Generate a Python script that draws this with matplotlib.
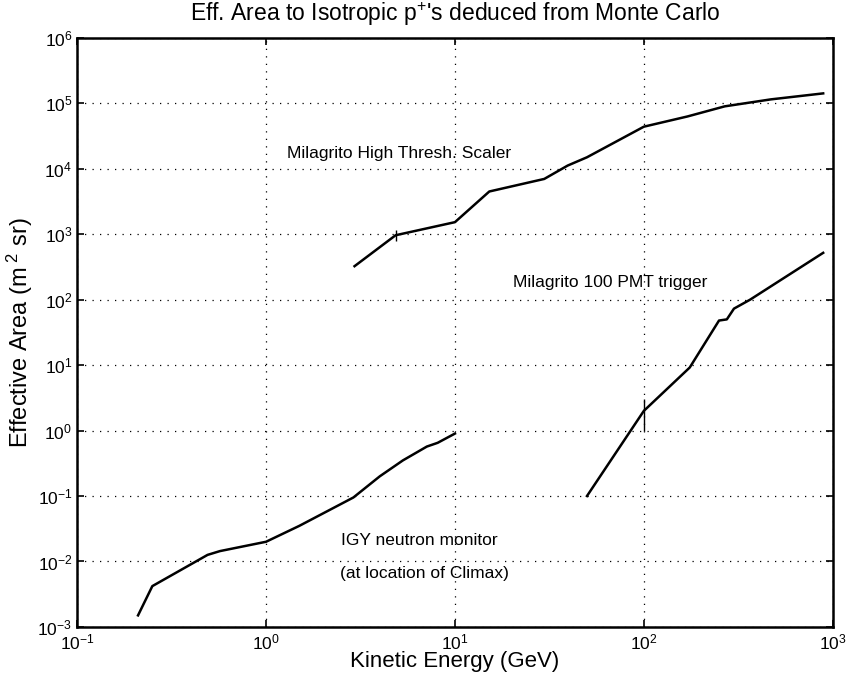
import matplotlib
matplotlib.use('Agg')
import matplotlib.pyplot as plt

plt.rcParams['font.family'] = ['Liberation Sans', 'DejaVu Sans']
plt.rcParams['mathtext.fontset'] = 'custom'
plt.rcParams['mathtext.rm'] = 'Liberation Sans'
plt.rcParams['mathtext.it'] = 'Liberation Sans'

# Milagrito high threshold scaler
scaler_e = [2.94, 4.85, 10, 15.2, 29.7, 39.5, 50, 100, 170, 268, 470, 890]
scaler_a = [325, 965, 1530, 4500, 7000, 11200, 15000, 44000, 63000, 90000, 115000, 142000]

# Milagrito 100 PMT trigger
pmt_e = [50, 100, 175, 250, 275, 300, 365, 890]
pmt_a = [0.1, 2.0, 9.2, 48, 50, 73, 100, 520]

# IGY neutron monitor (Climax)
igy_e = [0.21, 0.25, 0.49, 0.57, 1.0, 1.5, 2.9, 4.0, 5.3, 7.1, 8.1, 10]
igy_a = [0.0015, 0.0042, 0.0126, 0.0144, 0.020, 0.035, 0.095, 0.2, 0.35, 0.57, 0.65, 0.9]

# little error ticks
err_e = [4.9, 100]
err_lo = [800, 1.0]
err_hi = [1150, 3.0]

fig = plt.figure(figsize=(8.48, 6.77), dpi=100)
ax = fig.add_axes([0.091, 0.074, 0.891, 0.87])

ax.loglog(scaler_e, scaler_a, color='black', lw=1.8)
ax.loglog(pmt_e, pmt_a, color='black', lw=1.8)
ax.loglog(igy_e, igy_a, color='black', lw=1.8)
ax.vlines(err_e, err_lo, err_hi, color='black', lw=1.0)

ax.set_xlim(0.1, 1000)
ax.set_ylim(1e-3, 1e6)
ax.grid(True, which='major', color='black', linestyle=(0, (1, 5)), lw=0.9)
ax.minorticks_off()
ax.tick_params(direction='in', top=True, right=True, length=5, width=1.2, labelsize=12.5)
ax.tick_params(axis='x', pad=4)
for s in ax.spines.values():
    s.set_linewidth(1.8)

ax.text(1.29, 17000, 'Milagrito High Thresh. Scaler', fontsize=12.5, va='center')
ax.text(20.3, 182, 'Milagrito 100 PMT trigger', fontsize=12.5, va='center')
ax.text(2.5, 0.021, 'IGY neutron monitor', fontsize=12.5, va='center')
ax.text(2.45, 0.0066, '(at location of Climax)', fontsize=12.5, va='center')

ax.set_title("Eff. Area to Isotropic p$^{+}$'s deduced from Monte Carlo", fontsize=16.5, pad=12)
ax.set_xlabel('Kinetic Energy (GeV)', fontsize=16, labelpad=-1)
ax.set_ylabel('Effective Area (m$^{\\ 2}$ sr)', fontsize=17, labelpad=2)

fig.savefig('out.png', dpi=100)
